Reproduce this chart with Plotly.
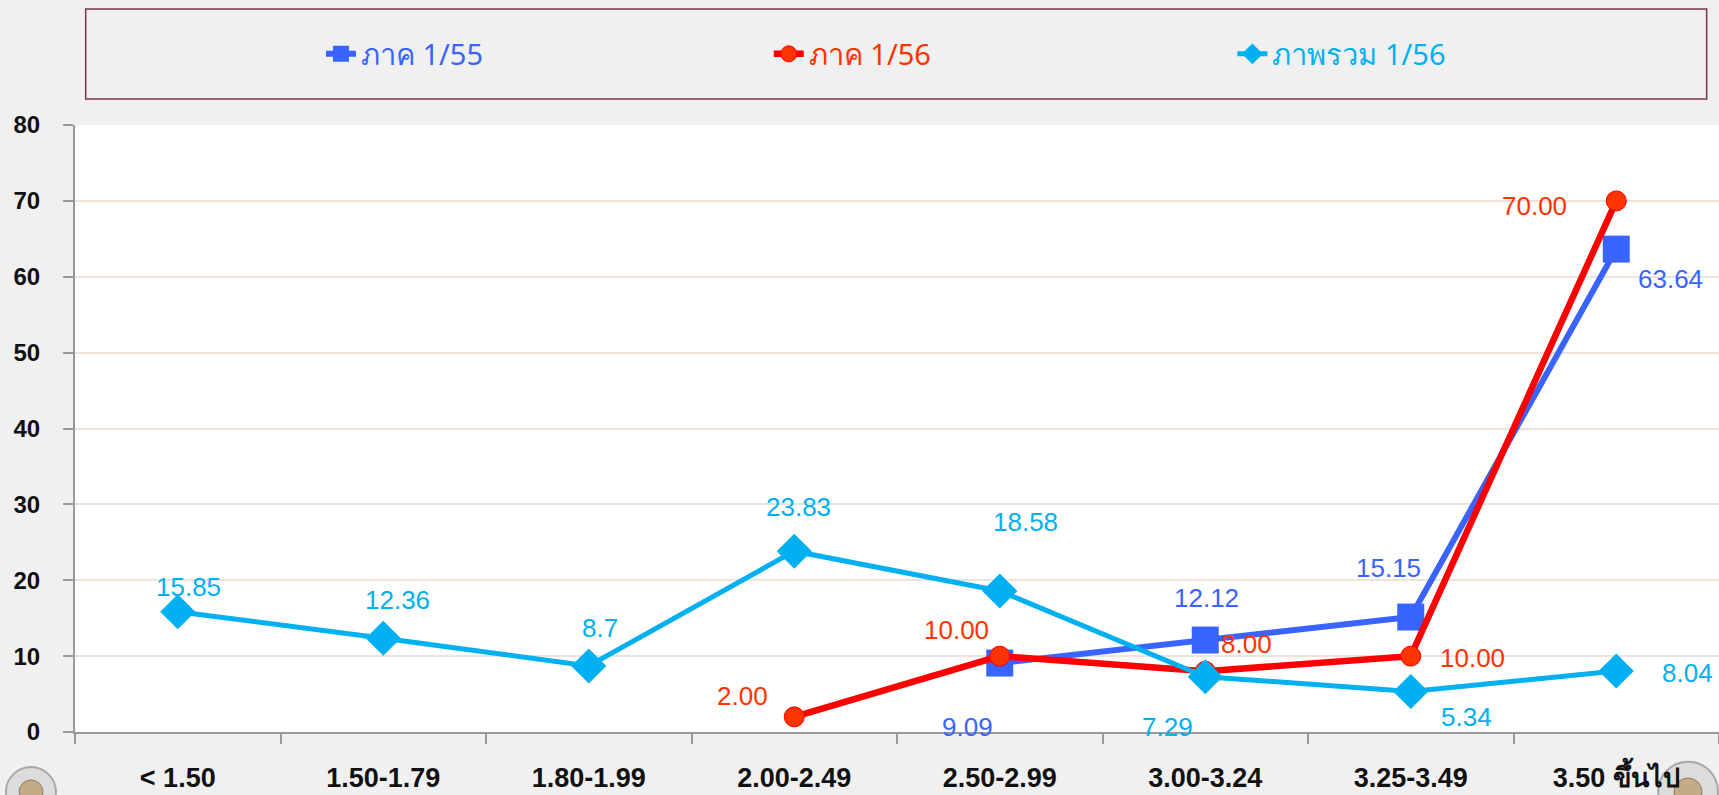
import plotly.graph_objects as go

categories = ["< 1.50", "1.50-1.79", "1.80-1.99", "2.00-2.49", "2.50-2.99", "3.00-3.24", "3.25-3.49", "3.50 ขึ้นไป"]
sem_1_55 = [None, None, None, None, 9.09, 12.12, 15.15, 63.64]
sem_1_56 = [None, None, None, 2.00, 10.00, 8.00, 10.00, 70.00]
overall_1_56 = [15.85, 12.36, 8.7, 23.83, 18.58, 7.29, 5.34, 8.04]

lbl_1_55 = ["", "", "", "", "9.09", "12.12", "15.15", "63.64"]
lbl_1_56 = ["", "", "", "2.00", "10.00", "8.00", "10.00", "70.00"]
lbl_all = ["15.85", "12.36", "8.7", "23.83", "18.58", "7.29", "5.34", "8.04"]

# label offsets (px) relative to each point: style only
off_1_55 = [None, None, None, None, (-32, -64), (1, 42), (-22, 49), (54, -30)]
off_1_56 = [None, None, None, (-52, 21), (-43, 26), (41, 27), (62, -2), (-82, -5)]
off_all = [(11, 25), (14, 38), (11, 38), (4, 44), (26, 69), (-38, -50), (56, -26), (71, -2)]

BLUE = "#3a64ff"
RED_LINE = "#ff0000"
RED_MK = "#ff3300"
CYAN = "#00b0f0"
LABEL_FONT = "Liberation Sans, Arial, sans-serif"

fig = go.Figure()
fig.add_trace(go.Scatter(
    x=categories, y=sem_1_55, name="ภาค 1/55", mode="lines+markers", legend="legend",
    line=dict(color=BLUE, width=6),
    marker=dict(symbol="square", size=27, color=BLUE),
))
fig.add_trace(go.Scatter(
    x=categories, y=sem_1_56, name="ภาค 1/56", mode="lines+markers", legend="legend2",
    line=dict(color=RED_LINE, width=6.5),
    marker=dict(symbol="circle", size=20, color=RED_MK, line=dict(color="#ff0000", width=1)),
))
fig.add_trace(go.Scatter(
    x=categories, y=overall_1_56, name="ภาพรวม 1/56", mode="lines+markers", legend="legend3",
    line=dict(color=CYAN, width=5),
    marker=dict(symbol="diamond", size=27, color=CYAN),
))

annotations = []
for vals, labels, offs, col in [(sem_1_55, lbl_1_55, off_1_55, BLUE),
                                (sem_1_56, lbl_1_56, off_1_56, RED_MK),
                                (overall_1_56, lbl_all, off_all, CYAN)]:
    for cat, v, lab, off in zip(categories, vals, labels, offs):
        if v is None or not lab:
            continue
        annotations.append(dict(
            x=cat, y=v, xref="x", yref="y", text=lab, showarrow=False,
            xshift=off[0], yshift=off[1],
            font=dict(color=col, size=26, family=LABEL_FONT),
        ))

shapes = [
    dict(type="rect", xref="paper", yref="paper", x0=0.0065, x1=0.9925, y0=1.043, y1=1.191,
         line=dict(color="#7b3448", width=1.5), fillcolor="rgba(0,0,0,0)", layer="below"),
    dict(type="circle", xref="paper", yref="paper", x0=-0.042, x1=-0.0116, y0=-0.0577, y1=-0.140,
         line=dict(color="#a8a8a8", width=2), fillcolor="#dcdcdc", layer="below"),
    dict(type="circle", xref="paper", yref="paper", x0=-0.034, x1=-0.0195, y0=-0.079, y1=-0.119,
         line=dict(color="#8a7a60", width=1), fillcolor="#c4ab85", layer="below"),
    dict(type="circle", xref="paper", yref="paper", x0=0.963, x1=0.9994, y0=-0.049, y1=-0.148,
         line=dict(color="#a8a8a8", width=2), fillcolor="#dcdcdc", layer="below"),
    dict(type="circle", xref="paper", yref="paper", x0=0.9726, x1=0.9897, y0=-0.0758, y1=-0.122,
         line=dict(color="#8a7a60", width=1), fillcolor="#c4ab85", layer="below"),
]

def legend_box(xpos, color):
    return dict(
        orientation="h", x=xpos, y=1.117, xanchor="left", yanchor="middle",
        bgcolor="rgba(0,0,0,0)",
        font=dict(size=29, color=color, family="Noto Sans, DejaVu Sans, sans-serif"),
    )

fig.update_layout(
    width=1719, height=795,
    paper_bgcolor="#f0f0f0", plot_bgcolor="#ffffff",
    margin=dict(l=75, r=0, t=125, b=63, autoexpand=False),
    showlegend=True,
    legend=legend_box(0.1496, BLUE),
    legend2=legend_box(0.422, RED_MK),
    legend3=legend_box(0.704, CYAN),
    shapes=shapes,
    annotations=annotations,
    xaxis=dict(
        type="category", categoryorder="array", categoryarray=categories,
        range=[-0.5, 7.5], showgrid=False, showline=True, linecolor="#999999", linewidth=2,
        ticks="outside", tickson="boundaries", ticklen=10, tickcolor="#999999", tickwidth=2,
        tickfont=dict(size=27, color="#111111", family="Liberation Sans Narrow, Arial Narrow, sans-serif",
                      weight="bold"),
        ticklabelstandoff=21,
    ),
    yaxis=dict(
        range=[0, 80], dtick=10, showgrid=True, gridcolor="#ece4da", gridwidth=1.5,
        showline=True, linecolor="#999999", linewidth=2, zeroline=False,
        ticks="outside", ticklen=10, tickcolor="#999999", tickwidth=2,
        tickfont=dict(size=24, color="#111111", family="Liberation Sans, Arial, sans-serif", weight="bold"),
        ticklabelstandoff=18,
    ),
)

fig.write_html("out.html", config={"responsive": False, "displayModeBar": False},
               post_script="document.body.style.margin='0';document.body.style.overflow='hidden';")
